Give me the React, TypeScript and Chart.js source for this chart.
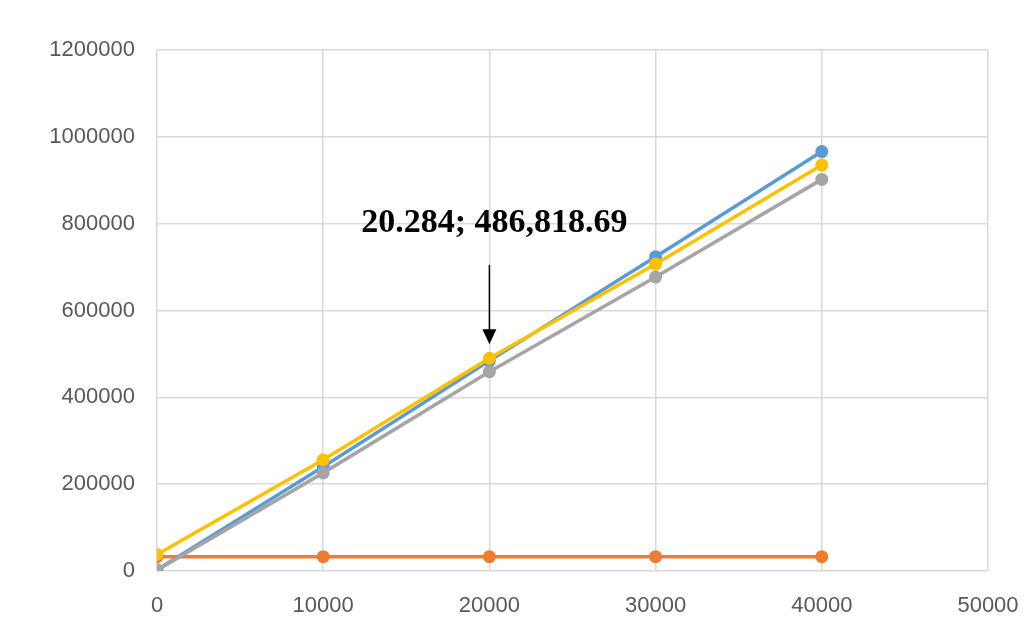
import React, { useEffect, useRef } from "react";
import { Chart, registerables } from "chart.js";

Chart.register(...registerables);

const xValues = [0, 10000, 20000, 30000, 40000];
const blueSeries = [3000, 240000, 484000, 724000, 966000];
const orangeSeries = [33000, 33000, 33000, 33000, 33000];
const greySeries = [2000, 226000, 459000, 677000, 902000];
const yellowSeries = [38000, 256000, 490000, 707000, 935000];

const xTicks = [0, 10000, 20000, 30000, 40000, 50000];
const yTicks = [0, 200000, 400000, 600000, 800000, 1000000, 1200000];

const annotationText = "20.284; 486,818.69";
const annotationTextAt = { x: 20300, y: 800000 };
const arrowFrom = { x: 20000, y: 705000 };
const arrowTo = { x: 20000, y: 522000 };

const toPoints = (ys: number[]) => xValues.map((x, i) => ({ x, y: ys[i] }));

const annotationPlugin = {
  id: "arrowAnnotation",
  afterDatasetsDraw(chart: any) {
    const { ctx, scales } = chart;
    const xs = scales.x;
    const ys = scales.y;
    ctx.save();
    ctx.fillStyle = "#000";
    ctx.font = "bold 34px 'Liberation Serif', 'DejaVu Serif', serif";
    ctx.textAlign = "center";
    ctx.textBaseline = "middle";
    ctx.fillText(annotationText, xs.getPixelForValue(annotationTextAt.x), ys.getPixelForValue(annotationTextAt.y));
    const ax = xs.getPixelForValue(arrowFrom.x);
    const ay1 = ys.getPixelForValue(arrowFrom.y);
    const ay2 = ys.getPixelForValue(arrowTo.y);
    ctx.strokeStyle = "#000";
    ctx.lineWidth = 1.5;
    ctx.beginPath();
    ctx.moveTo(ax, ay1);
    ctx.lineTo(ax, ay2 - 14);
    ctx.stroke();
    ctx.beginPath();
    ctx.moveTo(ax - 7, ay2 - 15);
    ctx.lineTo(ax + 7, ay2 - 15);
    ctx.lineTo(ax, ay2);
    ctx.closePath();
    ctx.fill();
    ctx.restore();
  },
};

export default function App() {
  const ref = useRef<HTMLCanvasElement | null>(null);
  useEffect(() => {
    document.body.style.margin = "0";
    if (!ref.current) return;
    const mk = (label: string, data: number[], color: string) => ({
      label,
      data: toPoints(data),
      borderColor: color,
      backgroundColor: color,
      borderWidth: 3.5,
      pointRadius: 6.5,
      pointHoverRadius: 6.5,
      pointBorderWidth: 0,
      tension: 0,
    });
    const chart = new Chart(ref.current, {
      type: "line",
      data: {
        datasets: [
          mk("Series 4", yellowSeries, "#FFC000"),
          mk("Series 3", greySeries, "#A5A5A5"),
          mk("Series 2", orangeSeries, "#ED7D31"),
          mk("Series 1", blueSeries, "#5B9BD5"),
        ],
      },
      options: {
        animation: false,
        responsive: false,
        maintainAspectRatio: false,
        layout: { padding: { top: 50, right: 46, left: 0, bottom: 0 } },
        plugins: { legend: { display: false }, tooltip: { enabled: false } },
        scales: {
          x: {
            type: "linear",
            min: 0,
            max: 50000,
            afterBuildTicks: (s: any) => {
              s.ticks = xTicks.map((v) => ({ value: v }));
            },
            afterFit: (s: any) => {
              s.height = 49;
              s.paddingLeft = 0;
              s.paddingRight = 0;
            },
            grid: { color: "#d9d9d9", lineWidth: 1.5, drawTicks: false },
            border: { display: false },
            ticks: {
              padding: 22,
              color: "#595959",
              font: { family: "'Liberation Sans', Arial, sans-serif", size: 22 },
              callback: (v: any) => String(v),
            },
          },
          y: {
            min: 0,
            max: 1200000,
            afterBuildTicks: (s: any) => {
              s.ticks = yTicks.map((v) => ({ value: v }));
            },
            afterFit: (s: any) => {
              s.width = 157;
              s.paddingTop = 0;
              s.paddingBottom = 0;
            },
            grid: { color: "#d9d9d9", lineWidth: 1.5, drawTicks: false },
            border: { display: false },
            ticks: {
              padding: 22,
              color: "#595959",
              font: { family: "'Liberation Sans', Arial, sans-serif", size: 22 },
              callback: (v: any) => String(v),
            },
          },
        },
      },
      plugins: [annotationPlugin],
    });
    return () => chart.destroy();
  }, []);
  return (
    <div style={{ position: "absolute", left: 0, top: 0, width: 1034, height: 620, background: "#fff" }}>
      <canvas ref={ref} width={1034} height={620} style={{ width: 1034, height: 620 }} />
    </div>
  );
}
